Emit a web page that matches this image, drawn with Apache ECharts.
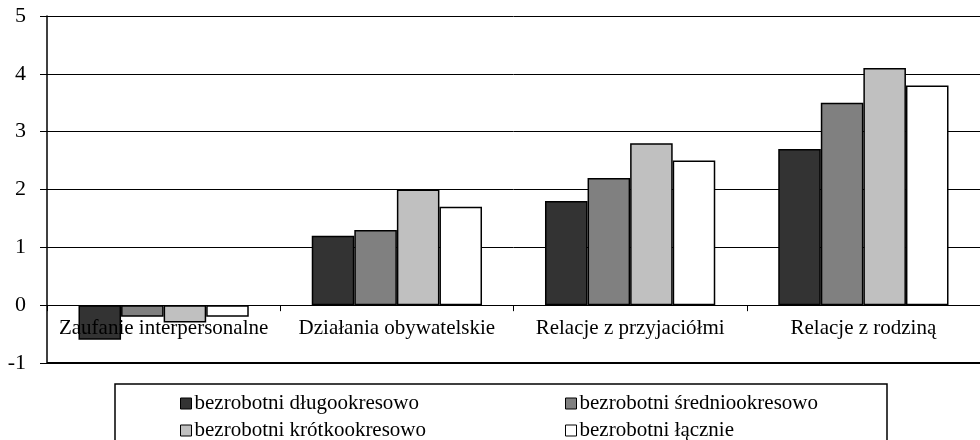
<!DOCTYPE html>
<html>
<head>
<meta charset="utf-8">
<script src="https://cdn.jsdelivr.net/npm/echarts@6/dist/echarts.min.js"></script>
<style>
  html, body { margin: 0; padding: 0; background: #fff; }
  #chart { width: 980px; height: 440px; }
</style>
</head>
<body>
<div id="chart"></div>
<script>
// kategorie osi X
var categories = ['Zaufanie interpersonalne', 'Działania obywatelskie', 'Relacje z przyjaciółmi', 'Relacje z rodziną'];
// serie
var seriesNames = ['bezrobotni długookresowo', 'bezrobotni średniookresowo', 'bezrobotni krótkookresowo', 'bezrobotni łącznie'];
var dlugo = [-0.6, 1.2, 1.8, 2.7];
var srednio = [-0.2, 1.3, 2.2, 3.5];
var krotko = [-0.3, 2.0, 2.8, 4.1];
var lacznie = [-0.2, 1.7, 2.5, 3.8];
// os Y
var yMin = -1;
var yMax = 5;
var yStep = 1;

var colors = ['#333333', '#808080', '#c0c0c0', '#ffffff'];
var font = '"Liberation Serif", "DejaVu Serif", serif';

var gridTop = 16, gridBottom = 77, chartH = 440;
var plotH = chartH - gridTop - gridBottom;
// przesuniecie osi kategorii na poziom 0
var zeroOffset = -plotH * (0 - yMin) / (yMax - yMin);

var chart = echarts.init(document.getElementById('chart'));

var values = [dlugo, srednio, krotko, lacznie];
var series = values.map(function (v, i) {
    var s = {
        name: seriesNames[i],
        type: 'bar',
        data: v,
        barGap: '0%',
        barCategoryGap: '27%',
        itemStyle: { color: colors[i], borderColor: '#000', borderWidth: 1.5 }
    };
    if (i === 0) {
        // gruba linia na dole wykresu
        s.markLine = {
            silent: true,
            symbol: 'none',
            label: { show: false },
            lineStyle: { color: '#000', width: 2, type: 'solid' },
            data: [{ yAxis: yMin }]
        };
    }
    return s;
});

var legendBase = {
    orient: 'vertical',
    icon: 'rect',
    height: 80,
    itemWidth: 11,
    itemHeight: 11,
    itemGap: 6,
    itemStyle: { borderColor: '#000', borderWidth: 1 },
    textStyle: { fontFamily: font, fontSize: 21, color: '#000', lineHeight: 21, padding: [0, 0, 0, -2] },
    selectedMode: false
};

var option = {
    animation: false,
    color: colors,
    grid: { left: 47, right: -3, top: gridTop, bottom: gridBottom, containLabel: false },
    legend: [
        Object.assign({}, legendBase, { left: 175, top: 388, data: [seriesNames[0], seriesNames[2]] }),
        Object.assign({}, legendBase, { left: 560, top: 388, data: [seriesNames[1], seriesNames[3]] })
    ],
    graphic: [{
        type: 'rect',
        shape: { x: 115, y: 384, width: 772, height: 80 },
        style: { fill: 'none', stroke: '#000', lineWidth: 1.5 },
        silent: true
    }],
    xAxis: {
        type: 'category',
        data: categories,
        position: 'bottom',
        offset: zeroOffset,
        z: 10,
        axisLine: { onZero: false, lineStyle: { color: '#000', width: 1 } },
        axisTick: { show: true, interval: 0, length: 6, lineStyle: { color: '#000' } },
        axisLabel: { interval: 0, hideOverlap: false, color: '#000', fontFamily: font, fontSize: 21, margin: 13 },
        splitLine: { show: false }
    },
    yAxis: {
        type: 'value',
        min: yMin,
        max: yMax,
        interval: yStep,
        axisLine: { show: true, onZero: false, lineStyle: { color: '#000', width: 1.5 } },
        axisTick: { show: true, length: 7, lineStyle: { color: '#000' } },
        axisLabel: { color: '#000', fontFamily: font, fontSize: 22, margin: 21 },
        splitLine: { show: true, lineStyle: { color: '#000', width: 1 } }
    },
    series: series
};

chart.setOption(option);
</script>
</body>
</html>
